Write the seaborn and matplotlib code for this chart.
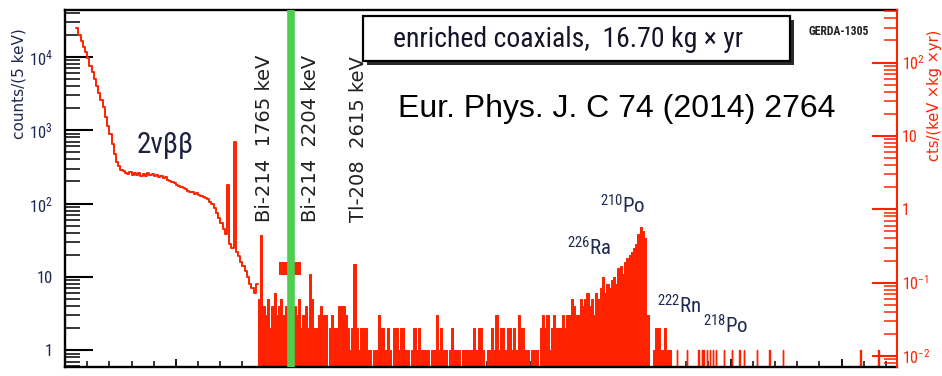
import numpy as np
import pandas as pd
import matplotlib
matplotlib.use("Agg")
import matplotlib.pyplot as plt
from matplotlib import font_manager, ticker
from matplotlib.patches import Rectangle
import seaborn as sns

# ------------------------------------------------------------------ data
# counts per 5 keV (shown in coarser bins)
low_start_keV = 100
low_bin_keV = 20
low_counts = [
    25000, 20000, 16500, 13500, 11500, 9500, 7600, 6200, 5000, 4000,   # 100-
    3200, 2600, 2100, 1500, 1150, 900, 650, 480, 370, 320,             # 300-
    290, 275, 262, 250, 265, 248, 262, 245, 258, 240,                  # 500-
    255, 238, 262, 242, 250, 236, 246, 230, 240, 222,                  # 700-
    228, 212, 204, 196, 190, 180, 176, 166, 162, 156,                  # 900-
    150, 145, 142, 135, 139, 130, 127, 122, 120, 114,                  # 1100-
    106, 98, 86, 75, 63, 54, 45, 38, 178, 28,                          # 1300-
    25, 690, 22, 19, 16, 14, 12, 10, 8, 7,                             # 1500-
    6, 8,                                                              # 1700-
]

mid_start_keV = 1740
mid_bin_keV = 20
mid_counts = [
    5, 37, 4,                          # 1740-
    3, 5, 2, 4, 6, 3, 4, 5, 3, 4,      # 1800-
    2, 3, 4, 4, 3, 5, 2, 3, 4, 2,      # 2000-
    11, 5, 2, 2, 3, 4, 3, 3, 0, 2,     # 2200-
    3, 2, 2, 4, 4, 4, 3, 2, 1, 2,      # 2400-
    15, 2, 1, 2, 2, 2, 1, 1, 0, 1,     # 2600-
    1, 3, 2, 2, 1, 2, 1, 0, 2, 2,      # 2800-
    1, 2, 2, 1, 1, 0, 1, 2, 1, 2,      # 3000-
    1, 1, 1, 1, 0, 1, 1, 3, 1, 2,      # 3200-
    1, 1, 0, 1, 2, 1, 1, 1, 0, 1,      # 3400-
    1, 1, 1, 1, 2, 1, 2, 2, 1, 0,      # 3600-
    1, 1, 2, 1, 3, 1, 2, 2, 1, 2,      # 3800-
    2, 1, 2, 1, 3, 2, 2, 1, 1, 0,      # 4000-
    1, 1, 1, 0, 2, 3, 2, 3, 1, 2,      # 4200-
    3, 2, 2, 2, 3, 2, 3, 3, 5, 4,      # 4400-
    3, 3, 5, 4, 5, 6, 4, 5, 3, 6,      # 4600-
    5, 7, 10, 6, 8, 7, 9, 10, 8, 13,   # 4800-
    14, 11, 16, 18, 20, 22, 25, 28, 38, 48,  # 5000-
    42, 34, 3, 0, 0, 1, 2, 2, 1, 1,    # 5200-
    2, 1, 1,                           # 5400-
]

high_start_keV = 5460
high_end_keV = 7500
high_bin_keV = 5
high_events_keV = [5516, 5606, 5714, 5741, 5759, 5786, 5813, 5840, 5867,
                   5940, 6012, 6084, 6120, 6237, 6354, 6471, 7166, 7171, 7330]

q_bb_keV = 2039
blind_window_keV = [1930, 2130]
blind_window_counts = [10.5, 16.0]

exposure_kg_yr = 16.70
counts_bin_keV = 5

gamma_labels = ["Bi-214  1765 keV", "Bi-214  2204 keV", "Tl-208  2615 keV"]
isotope_labels = [r"$^{210}$Po", r"$^{226}$Ra", r"$^{222}$Rn", r"$^{218}$Po"]

left_ticks = [1, 10, 100, 1000, 10000]
left_ticklabels = ["1", "10", r"$10^{2}$", r"$10^{3}$", r"$10^{4}$"]
right_ticks = [0.01, 0.1, 1, 10, 100]
right_ticklabels = [r"$10^{-2}$", r"$10^{-1}$", "1", "10", r"$10^{2}$"]

# ------------------------------------------------------------------ fonts
sns.set_style("ticks")
ttf = font_manager.fontManager.ttflist
names = {f.name for f in ttf}
NARROW, STRETCH = "Liberation Sans", "normal"
for cand in ["Liberation Sans Narrow", "Roboto Condensed", "Open Sans Condensed",
             "Noto Sans Condensed", "Arimo Narrow"]:
    if cand in names:
        NARROW = cand
        break
else:
    for fam in ["Noto Sans", "Open Sans", "Roboto"]:
        if any(f.name == fam and f.stretch == "condensed" and f.style == "normal"
               for f in ttf):
            NARROW, STRETCH = fam, "condensed"
            break
HAVE_NARROW = NARROW != "Liberation Sans"

plt.rcParams["font.family"] = [NARROW, "Liberation Sans", "DejaVu Sans"]
plt.rcParams["font.stretch"] = STRETCH
plt.rcParams["mathtext.fontset"] = "custom"
spec = NARROW + (":stretch=condensed" if STRETCH == "condensed" else "")
plt.rcParams["mathtext.rm"] = spec
plt.rcParams["mathtext.it"] = spec + ":italic"
plt.rcParams["mathtext.bf"] = spec + ":bold"

fs_tick = 12 if HAVE_NARROW else 11
fs_box = 20 if HAVE_NARROW else 17
fs_iso = 15 if HAVE_NARROW else 13.5
fs_nbb = 21 if HAVE_NARROW else 18

RED = "#ff2200"
GREEN = "#4fcd4f"
NAVY = "#1e2850"

W, H = 942, 376
fig = plt.figure(figsize=(W / 100, H / 100), dpi=100)
fig.patch.set_facecolor("white")


def fx(x):
    return x / W


def fy(y):
    return 1 - y / H


ax = fig.add_axes([fx(65), fy(367), (897 - 65) / W, (367 - 10) / H])
ax.set_facecolor("white")
ax.set_yscale("log")

# ------------------------------------------------------------------ histograms
low_end_keV = low_start_keV + low_bin_keV * len(low_counts)
mid_end_keV = mid_start_keV + mid_bin_keV * len(mid_counts)

df_low = pd.DataFrame({"E": low_start_keV + low_bin_keV * (np.arange(len(low_counts)) + 0.5),
                       "w": np.asarray(low_counts, dtype=float)})
df_mid = pd.DataFrame({"E": mid_start_keV + mid_bin_keV * (np.arange(len(mid_counts)) + 0.5),
                       "w": np.asarray(mid_counts, dtype=float)})
df_high = pd.DataFrame({"E": np.asarray(high_events_keV, dtype=float)})

sns.histplot(data=df_low, x="E", weights="w", binwidth=low_bin_keV,
             binrange=(low_start_keV, low_end_keV),
             element="step", fill=False, color=RED, linewidth=1.4, ax=ax)
sns.histplot(data=df_mid, x="E", weights="w", binwidth=mid_bin_keV,
             binrange=(mid_start_keV, mid_end_keV),
             element="step", fill=True, alpha=1, color=RED, edgecolor=RED,
             linewidth=0.7, ax=ax)
sns.histplot(data=df_high, x="E", binwidth=high_bin_keV,
             binrange=(high_start_keV, high_end_keV), element="step", fill=False,
             color=RED, linewidth=1.0, ax=ax)

ax.fill_between(blind_window_keV, blind_window_counts[0], blind_window_counts[1],
                color=RED, linewidth=0, zorder=3)
ax.axvline(q_bb_keV, color=GREEN, linewidth=5.5, zorder=4)

ylim = (0.59, 43500)
ax.set_xlim(0, 7500)
ax.set_ylim(*ylim)
ax.set_xlabel("")
ax.set_ylabel("")

ax.xaxis.set_major_locator(ticker.MultipleLocator(1000))
ax.xaxis.set_minor_locator(ticker.MultipleLocator(200))
ax.yaxis.set_major_locator(ticker.FixedLocator(left_ticks))
ax.yaxis.set_major_formatter(ticker.FixedFormatter(left_ticklabels))
ax.yaxis.set_minor_locator(ticker.LogLocator(base=10, subs=np.arange(2, 10), numticks=30))
ax.yaxis.set_minor_formatter(ticker.NullFormatter())

ax.tick_params(axis="x", which="major", direction="in", length=6, width=1.3,
               bottom=True, top=False, labelbottom=False, color="black")
ax.tick_params(axis="x", which="minor", direction="in", length=4.3, width=1.1,
               bottom=True, top=False, color="black")
ax.tick_params(axis="y", which="major", direction="in", length=20, width=1.5,
               left=True, right=False, color="black", labelcolor=NAVY,
               labelsize=fs_tick, pad=9)
ax.tick_params(axis="y", which="minor", direction="in", length=11, width=1.1,
               left=True, right=False, color="black")

for side in ["left", "top", "bottom"]:
    ax.spines[side].set_color("black")
    ax.spines[side].set_linewidth(1.7)
ax.spines["right"].set_visible(False)

ax2 = ax.twinx()
ax2.set_yscale("log")
scale = counts_bin_keV * exposure_kg_yr
ax2.set_ylim(ylim[0] / scale, ylim[1] / scale)
ax2.yaxis.set_major_locator(ticker.FixedLocator(right_ticks))
ax2.yaxis.set_major_formatter(ticker.FixedFormatter(right_ticklabels))
ax2.yaxis.set_minor_locator(ticker.LogLocator(base=10, subs=np.arange(2, 10), numticks=30))
ax2.yaxis.set_minor_formatter(ticker.NullFormatter())
ax2.tick_params(axis="y", which="major", direction="in", length=18, width=1.5,
                right=True, left=False, color=RED, labelcolor=RED,
                labelsize=fs_tick - 0.5, pad=3.5)
ax2.tick_params(axis="y", which="minor", direction="in", length=9.5, width=1.1,
                right=True, left=False, color=RED)
for side in ["left", "top", "bottom"]:
    ax2.spines[side].set_visible(False)
ax2.spines["right"].set_color(RED)
ax2.spines["right"].set_linewidth(1.5)

# ------------------------------------------------------------------ texts
fig.text(fx(19), fy(28), "counts/(5 keV)", rotation=90, ha="center", va="top",
         fontsize=11, color=NAVY, family=["DejaVu Sans"], stretch="normal")
fig.text(fx(934), fy(30), "cts/(keV \u00d7kg \u00d7yr)", rotation=90, ha="center",
         va="top", fontsize=10.5, color=RED, family=["DejaVu Sans"], stretch="normal")

fig.text(fx(137), fy(153), "2\u03bd\u03b2\u03b2", ha="left", va="baseline",
         fontsize=fs_nbb, color="#1c2240")

for lab, xc in zip(gamma_labels, [265, 311, 358]):
    fig.text(fx(xc), fy(222), lab, rotation=90, ha="center", va="bottom",
             fontsize=14, color="#202020", family=["DejaVu Sans"], stretch="normal")

for lab, (xl, yb) in zip(isotope_labels, [(600, 213), (567, 255), (657, 313), (703, 333)]):
    fig.text(fx(xl), fy(yb), lab, ha="left", va="baseline", fontsize=fs_iso, color=NAVY)

# box with shadow
shadow = Rectangle((fx(367), fy(65)), (790 - 363) / W, (61 - 16) / H,
                   transform=fig.transFigure, facecolor="#2a2a2a", edgecolor="none",
                   zorder=5)
box = Rectangle((fx(363), fy(61)), (790 - 363) / W, (61 - 16) / H,
                transform=fig.transFigure, facecolor="white", edgecolor="black",
                linewidth=1.6, zorder=6)
fig.add_artist(shadow)
fig.add_artist(box)
fig.text(fx(568), fy(47), "enriched coaxials,  16.70 kg \u00d7 yr", ha="center",
         va="baseline", fontsize=fs_box, color="#15152a", zorder=7)

fig.text(fx(839), fy(35), "GERDA-1305", ha="center", va="baseline", fontsize=8.5,
         fontweight="bold", color="#222222")

fig.text(fx(398), fy(117), "Eur. Phys. J. C 74 (2014) 2764", ha="left",
         va="baseline", fontsize=23, color="black",
         family=["Liberation Sans", "DejaVu Sans"], stretch="normal")

fig.savefig("out.png", dpi=100, facecolor="white")
